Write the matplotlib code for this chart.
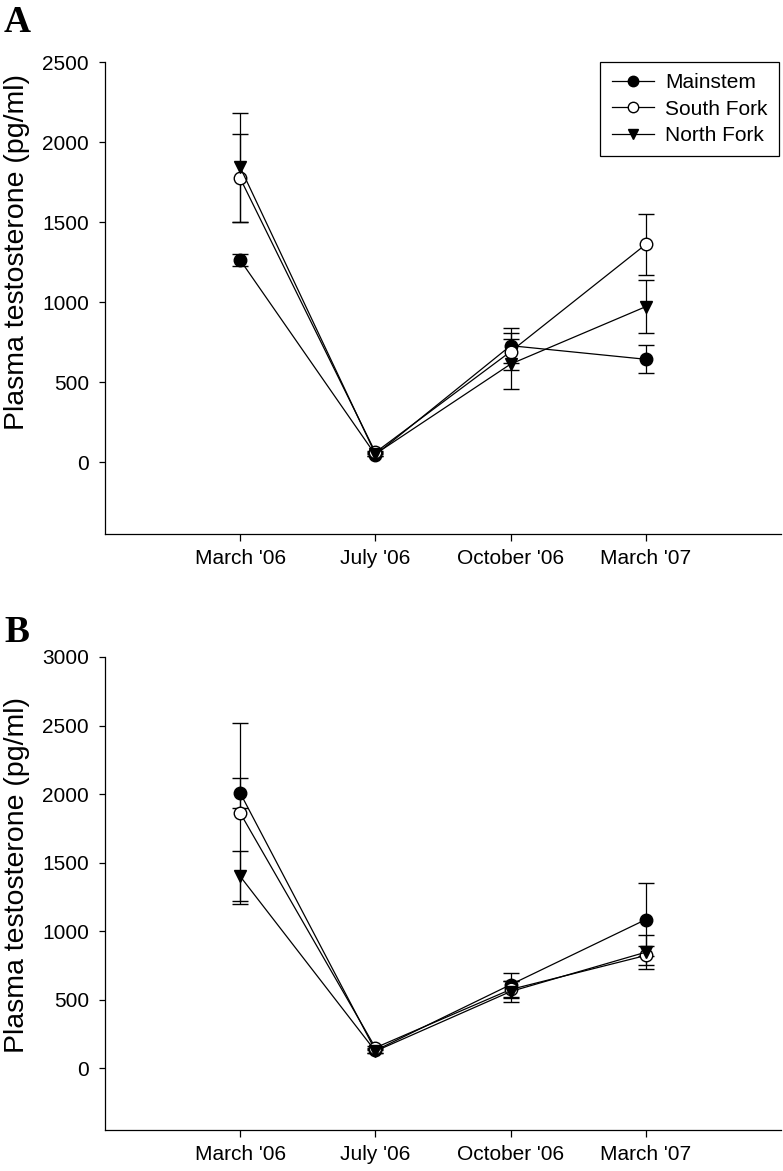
import numpy as np
import matplotlib
matplotlib.use("Agg")
import matplotlib.pyplot as plt
from matplotlib.lines import Line2D

plt.rcParams['font.family'] = ['Liberation Sans', 'DejaVu Sans']

months = ["March '06", "July '06", "October '06", "March '07"]
series = ["Mainstem", "South Fork", "North Fork"]

# panel A
a_main = [1262, 45, 727, 642]
a_main_err = [38, 10, 108, 87]
a_south = [1773, 60, 690, 1360]
a_south_err = [275, 10, 118, 192]
a_north = [1842, 50, 612, 971]
a_north_err = [340, 10, 158, 165]

# panel B
b_main = [2008, 130, 610, 1085]
b_main_err = [113, 15, 87, 265]
b_south = [1862, 150, 575, 823]
b_south_err = [660, 15, 60, 68]
b_north = [1400, 125, 560, 847]
b_north_err = [183, 15, 77, 122]

styles = {
    "Mainstem": dict(marker='o', mfc='black'),
    "South Fork": dict(marker='o', mfc='white'),
    "North Fork": dict(marker='v', mfc='black'),
}

W, H = 783, 1171
FS = 15
fig = plt.figure(figsize=(W / 100, H / 100), dpi=100)


def panel(rect, vals, errs, ytop, letter, letter_y, label_y, legend=False):
    ax = fig.add_axes(rect)
    x = np.arange(1, len(months) + 1)
    for name, v, e in zip(series, vals, errs):
        st = styles[name]
        ax.errorbar(x, v, yerr=e, color='black', lw=0.9, elinewidth=0.9,
                    capsize=5.5, capthick=0.9, marker=st['marker'],
                    markersize=9, mfc=st['mfc'], mec='black', mew=1.0)
    ax.set_xlim(0, 5)
    ax.set_ylim(-450, ytop)
    ax.set_yticks(np.arange(0, ytop + 1, 500))
    ax.set_xticks(x)
    ax.set_xticklabels(months)
    ax.spines['top'].set_visible(False)
    ax.spines['right'].set_visible(False)
    for s in ['left', 'bottom']:
        ax.spines[s].set_linewidth(0.9)
    ax.tick_params(axis='y', direction='out', length=4.5, width=0.9,
                   pad=7, labelsize=FS)
    ax.tick_params(axis='x', direction='out', length=5, width=0.9,
                   pad=5.5, labelsize=FS)
    fig.text(17 / W, 1 - label_y / H, "Plasma testosterone (pg/ml)",
             rotation=90, fontsize=20.5, ha='center', va='center')
    fig.text(4 / W, 1 - letter_y / H, letter, family='Liberation Serif',
             weight='bold', fontsize=27, va='center', ha='left')
    if legend:
        handles = [Line2D([], [], color='black', lw=0.9,
                          marker=styles[n]['marker'], markersize=7.5,
                          mfc=styles[n]['mfc'], mec='black', mew=1.0)
                   for n in series]
        leg = ax.legend(handles, series, loc='upper right',
                        bbox_to_anchor=(0.997, 1.0), borderaxespad=0,
                        fontsize=FS, frameon=True, fancybox=False,
                        edgecolor='black', framealpha=1, handlelength=2.0,
                        borderpad=0.55, labelspacing=0.35, handletextpad=0.55)
        leg.get_frame().set_linewidth(0.9)
    return ax


panel([105 / W, 1 - 534 / H, 676 / W, 472 / H],
      [a_main, a_south, a_north], [a_main_err, a_south_err, a_north_err],
      2500, "A", 23, 252, legend=True)
panel([105 / W, 1 - 1130 / H, 676 / W, 473 / H],
      [b_main, b_south, b_north], [b_main_err, b_south_err, b_north_err],
      3000, "B", 632, 875)

fig.savefig("out.png", dpi=100)
